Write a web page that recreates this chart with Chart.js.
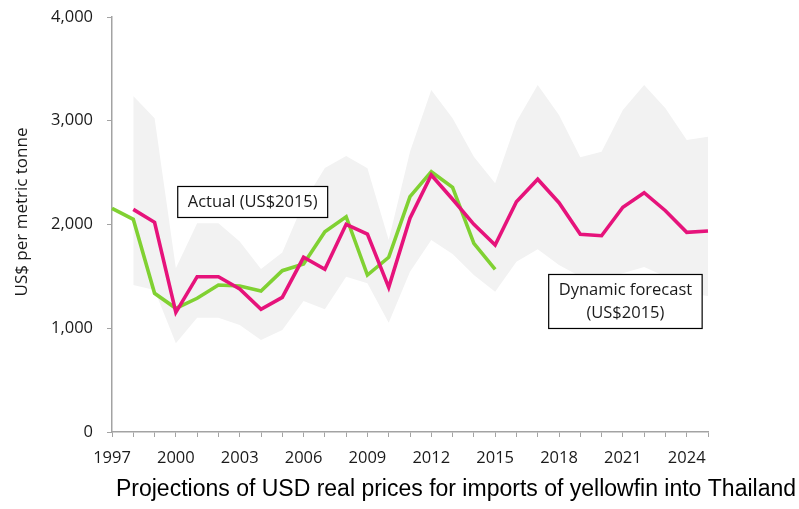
<!DOCTYPE html>
<html>
<head>
<meta charset="utf-8">
<script src="https://cdn.jsdelivr.net/npm/chart.js@4/dist/chart.umd.min.js"></script>
<style>
  html, body { margin: 0; padding: 0; background: #fff; }
  #wrap { width: 799px; height: 509px; }
</style>
</head>
<body>
<div id="wrap"><canvas id="chart" width="799" height="509"></canvas></div>
<script>
// Years on the x axis (labels shown every 3 years)
const years = [1997, 1998, 1999, 2000, 2001, 2002, 2003, 2004, 2005, 2006,
    2007, 2008, 2009, 2010, 2011, 2012, 2013, 2014, 2015, 2016,
    2017, 2018, 2019, 2020, 2021, 2022, 2023, 2024, 2025]

// Actual real price (US$2015)
const actual = [2156, 2050, 1337, 1192, 1289, 1417, 1407, 1359, 1555, 1619,
    1931, 2075, 1513, 1684, 2268, 2509, 2358, 1818, 1568, null,
    null, null, null, null, null, null, null, null, null]

// Dynamic forecast (US$2015)
const forecast = [null, 2146, 2021, 1153, 1497, 1497, 1378, 1182, 1298, 1684,
    1568, 2002, 1908, 1394, 2060, 2477, 2243, 2002, 1802, 2220,
    2436, 2210, 1905, 1892, 2166, 2307, 2133, 1925, 1937]

// Forecast interval band
const bandUpper = [null, 3239, 3023, 1578, 2011, 2011, 1835, 1571, 1729, 2210,
    2545, 2660, 2541, 1851, 2702, 3296, 3023, 2654, 2397, 2991,
    3345, 3055, 2647, 2702, 3104, 3345, 3120, 2814, 2846]
const bandLower = [null, 1417, 1369, 855, 1102, 1102, 1031, 887, 983, 1263,
    1182, 1497, 1433, 1053, 1545, 1851, 1716, 1513, 1352, 1642,
    1761, 1610, 1500, 1480, 1530, 1590, 1500, 1340, 1310]

const yTicks = [0, 1000, 2000, 3000, 4000]

const chartTitle = 'Projections of USD real prices for imports of yellowfin into Thailand'
const yTitle = 'US$ per metric tonne'

// Text boxes placed in data coordinates (x = category index, y = value)
const notes = [
    { lines: ["Actual (US$2015)"], x: 6.61, y: 2217 },
    { lines: ["Dynamic forecast", "(US$2015)"], x: 24.12, y: 1258 },
]

const tickFont = { family: "'Open Sans'", size: 16.5 }
const inkColor = '#1a1a1a'
const axisColor = '#a3a3a3'

const notesPlugin = {
    id: 'notes',
    afterDatasetsDraw(chart) {
        const ctx = chart.ctx
        const xs = chart.scales.x
        const ys = chart.scales.y
        ctx.save()
        ctx.font = "16.5px 'Open Sans'"
        ctx.textAlign = 'center'
        ctx.textBaseline = 'middle'
        for (const note of notes) {
            const cx = xs.getPixelForValue(note.x)
            const cy = ys.getPixelForValue(note.y)
            const lineH = 23
            const w = Math.max(...note.lines.map(l => ctx.measureText(l).width)) + 20
            const h = note.lines.length * lineH + 8
            ctx.fillStyle = '#fff'
            ctx.fillRect(cx - w / 2, cy - h / 2, w, h)
            ctx.strokeStyle = '#000'
            ctx.lineWidth = 1.2
            ctx.strokeRect(cx - w / 2, cy - h / 2, w, h)
            ctx.fillStyle = inkColor
            note.lines.forEach((l, i) => {
                ctx.fillText(l, cx, cy - h / 2 + 4 + lineH * (i + 0.5))
            })
        }
        ctx.restore()
    },
    afterDraw(chart) {
        // chart title under the axis and the rotated y axis title
        const ctx = chart.ctx
        ctx.save()
        ctx.fillStyle = '#000'
        ctx.font = "23px 'Liberation Sans'"
        ctx.textAlign = 'center'
        ctx.textBaseline = 'middle'
        ctx.fillText(chartTitle, 456, 490)
        ctx.translate(22, 212)
        ctx.rotate(-Math.PI / 2)
        ctx.fillStyle = inkColor
        ctx.font = "17px 'Open Sans'"
        ctx.fillText(yTitle, 0, 0)
        ctx.restore()
    }
}

const ctx = document.getElementById('chart')
new Chart(ctx, {
    type: 'line',
    data: {
        labels: years,
        datasets: [
            {
                label: 'Dynamic forecast (US$2015)',
                data: forecast,
                borderColor: '#e6137b',
                borderWidth: 3.6,
                pointRadius: 0,
                tension: 0,
                order: 0,
            },
            {
                label: 'Actual (US$2015)',
                data: actual,
                borderColor: '#80d132',
                borderWidth: 3.6,
                pointRadius: 0,
                tension: 0,
                order: 1,
            },
            {
                label: 'Lower',
                data: bandLower,
                borderWidth: 0,
                borderColor: 'rgba(0,0,0,0)',
                pointRadius: 0,
                fill: false,
                order: 3,
            },
            {
                label: 'Upper',
                data: bandUpper,
                borderWidth: 0,
                borderColor: 'rgba(0,0,0,0)',
                backgroundColor: '#f2f2f2',
                pointRadius: 0,
                fill: 2,
                order: 2,
            },
        ]
    },
    options: {
        responsive: false,
        animation: false,
        layout: {
            padding: { top: 17, right: 91, bottom: 33, left: 0 }
        },
        plugins: {
            legend: { display: false },
            tooltip: { enabled: false },
            title: { display: false },
        },
        scales: {
            x: {
                type: 'category',
                offset: false,
                afterFit(scale) { scale.height = 44 },
                grid: {
                    drawOnChartArea: false,
                    drawTicks: true,
                    tickLength: 5,
                    color: axisColor,
                },
                border: { display: true, color: axisColor, width: 1.5 },
                ticks: {
                    autoSkip: false,
                    maxRotation: 0,
                    padding: 11,
                    color: inkColor,
                    font: tickFont,
                    callback: (v, i) => (years[i] - 1997) % 3 === 0 && years[i] < 2025 ? String(years[i]) : '',
                },
            },
            y: {
                min: 0,
                max: 4000,
                afterFit(scale) {
                    scale.width = 112
                    scale.paddingTop = 0
                    scale.paddingBottom = 0
                },
                afterBuildTicks(scale) { scale.ticks = yTicks.map(v => ({ value: v })) },
                grid: {
                    drawOnChartArea: false,
                    drawTicks: true,
                    tickLength: 5,
                    color: axisColor,
                },
                border: { display: true, color: axisColor, width: 1.5 },
                ticks: {
                    padding: 14,
                    color: inkColor,
                    font: tickFont,
                    callback: v => v.toLocaleString('en-US'),
                },
                title: { display: false },
            },
        },
    },
    plugins: [notesPlugin],
})
</script>
</body>
</html>
